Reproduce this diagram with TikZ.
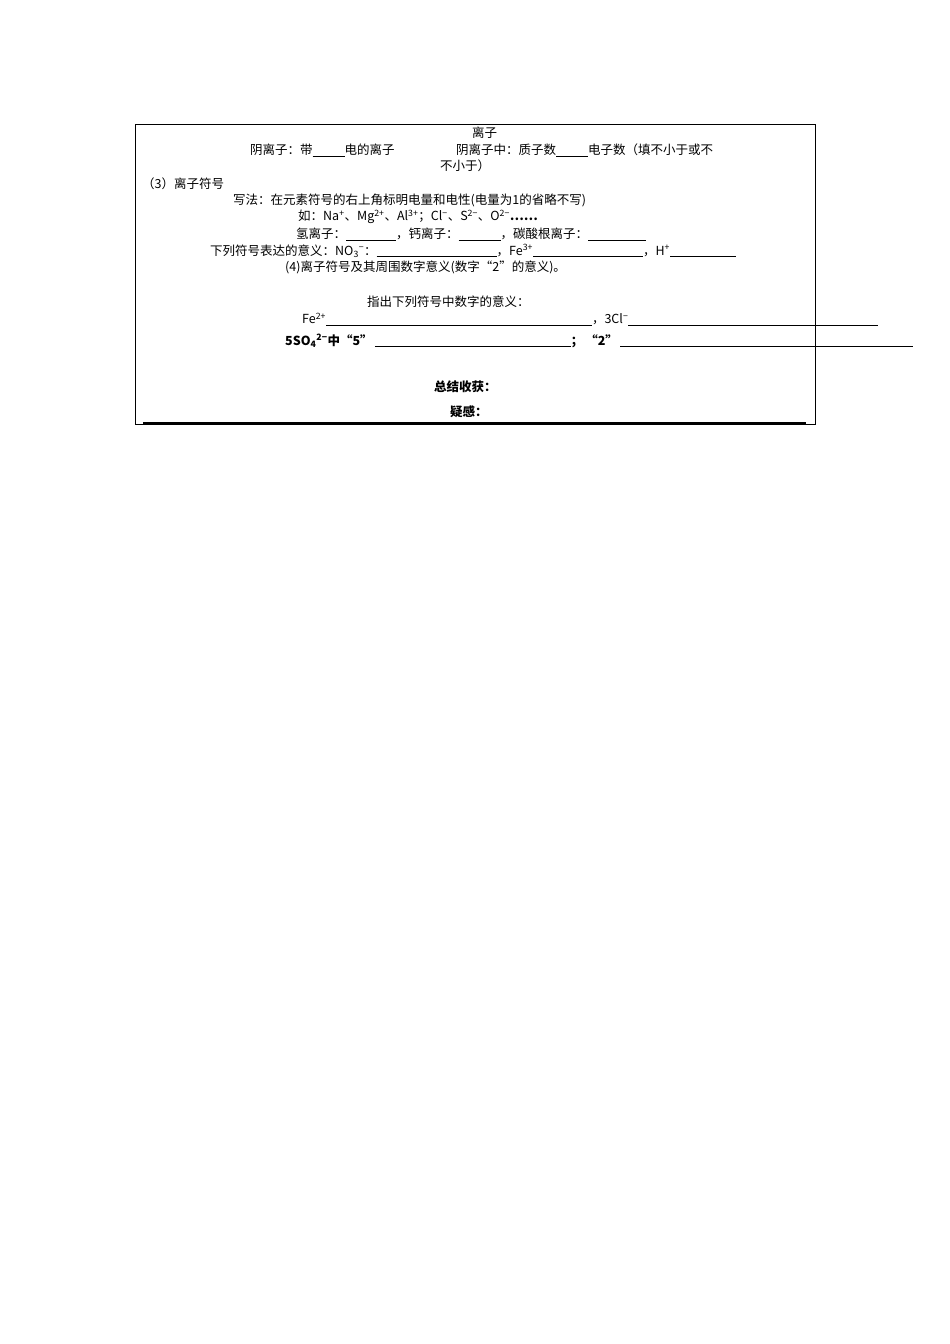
\documentclass[tikz,border=0pt]{standalone}
\usepackage{fontspec}
\setmainfont{Liberation Serif}
\newfontfamily\cjk{Noto Sans CJK SC}
\newcommand{\ul}[1]{\rule[-1.5pt]{#1pt}{0.5pt}}
\begin{document}
\begin{tikzpicture}[x=1pt,y=-1pt,
  t/.style={anchor=west,inner sep=0pt,font=\cjk\fontsize{12.5}{13}\selectfont},
  tb/.style={t,font=\cjk\bfseries\fontsize{12.5}{13}\selectfont}]
\useasboundingbox (0,0) rectangle (950,1344);
\draw[line width=0.8pt] (135,124) rectangle (815,424);
\node[t] (a) at (472,133) {离子};
\node[t] (b) at (250,150) {阴离子：带\ul{32}电的离子};
\node[t] (c) at (456,150) {阴离子中：质子数\ul{32}电子数（填不小于或不};
\node[t] (d) at (440,166) {不小于）};
\node[t] (e) at (142,184) {（3）离子符号};
\node[t] (f) at (233,200) {写法：在元素符号的右上角标明电量和电性(电量为1的省略不写)};
\node[t] (g) at (298,217) {如：Na\textsuperscript{+}、Mg\textsuperscript{2+}、Al\textsuperscript{3+}；Cl\textsuperscript{−}、S\textsuperscript{2−}、O\textsuperscript{2−}\textbf{……}};
\node[t] (h) at (296,234) {氢离子：\ul{50}，钙离子：\ul{42}，碳酸根离子：\ul{58}};
\node[t] (i) at (210,251) {下列符号表达的意义：NO\textsubscript{3}\textsuperscript{−}：\ul{120}，Fe\textsuperscript{3+}\ul{110}，H\textsuperscript{+}\ul{66}};
\node[t] (j) at (285,267) {(4)离子符号及其周围数字意义(数字“2”的意义)。};
\node[t] (k) at (367,302) {指出下列符号中数字的意义：};
\node[t] (l) at (302,319) {Fe\textsuperscript{2+}\ul{266}，3Cl\textsuperscript{−}\ul{250}};
\node[tb] (m) at (285,341) {5SO\textsubscript{4}\textsuperscript{2−}中“5”\,\ul{196}；\,“2”\,\ul{293}};
\node[tb] (n) at (434,387) {总结收获：};
\node[tb] (o) at (450,412) {疑感：};
\draw[line width=1.2pt] (143,423) -- (806,423);
\end{tikzpicture}
\end{document}
